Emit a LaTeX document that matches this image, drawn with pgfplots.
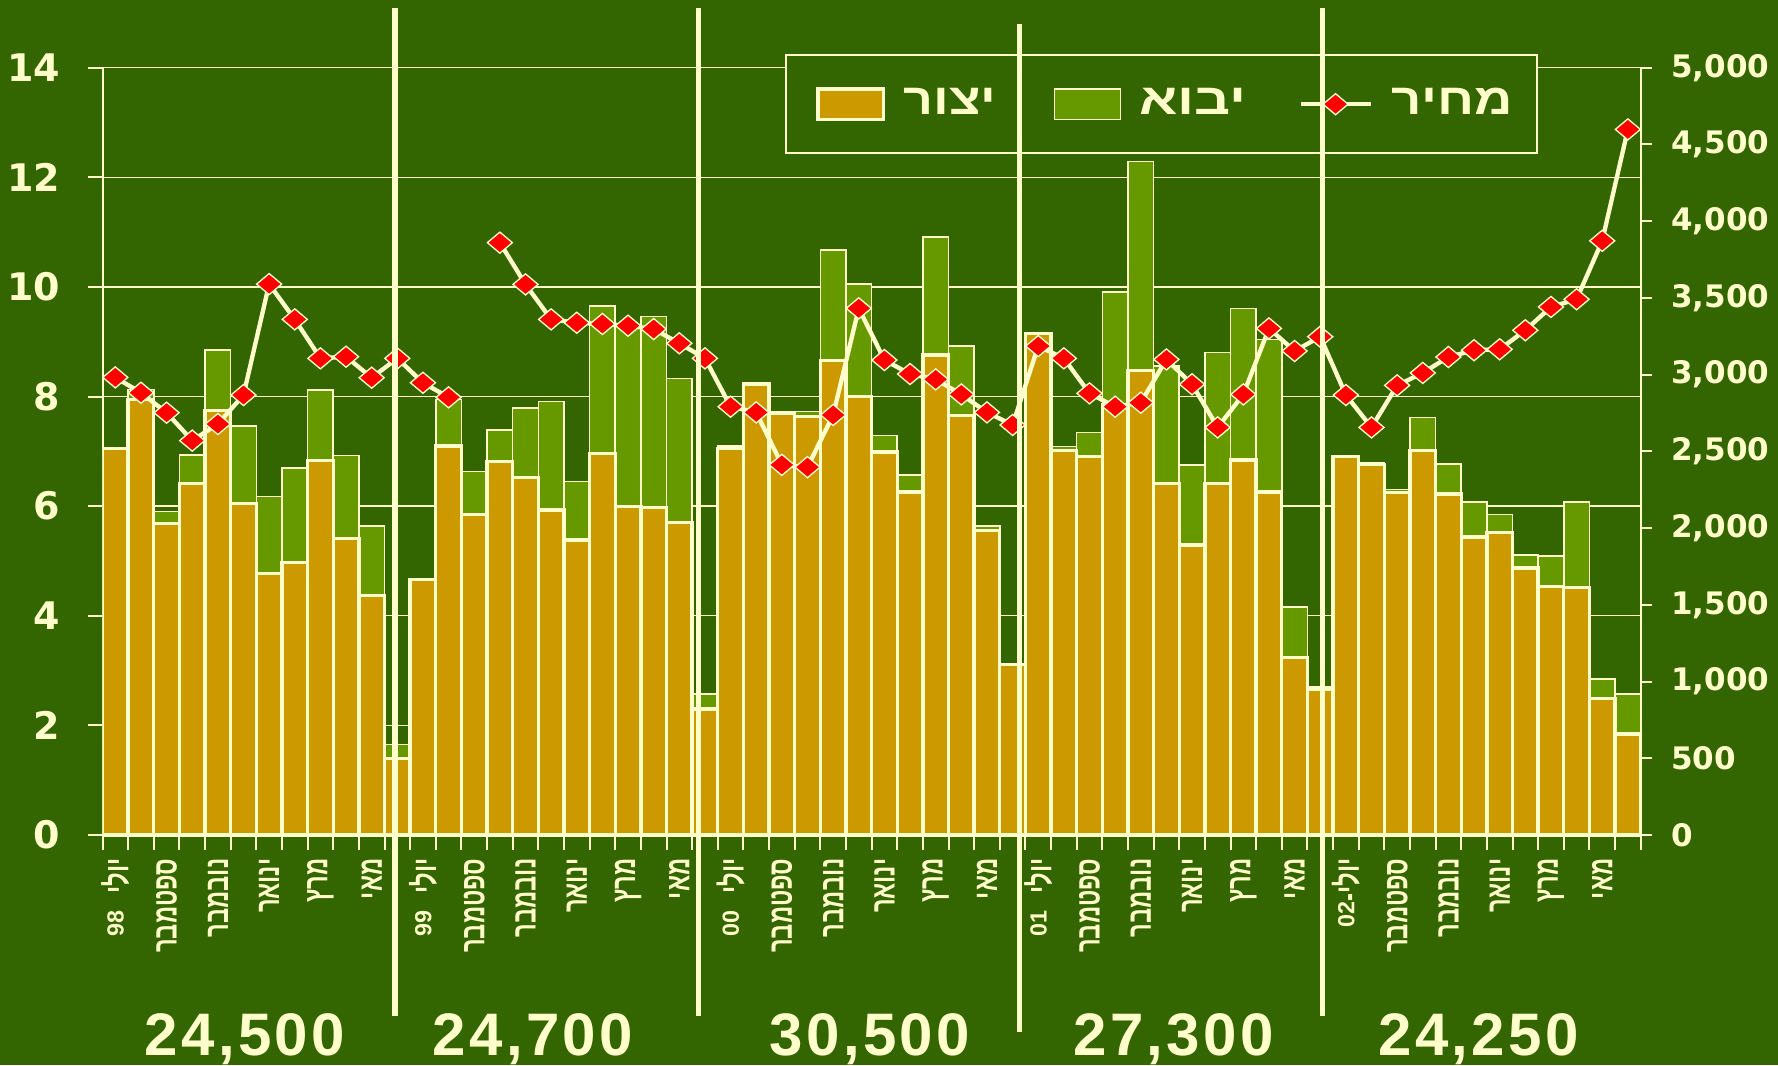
\documentclass[border=0pt]{standalone}
\usepackage{fontspec}
\usepackage{graphicx}
\usepackage{pgfplots}
\usepackage{pgfplotstable}
\pgfplotsset{compat=1.18}
\setmainfont{Liberation Sans}
\newfontfamily\heb[Script=Hebrew]{Liberation Sans}
\newfontfamily\hebn[Script=Hebrew, FakeStretch=0.71]{Liberation Sans}
\newfontfamily\dvs{DejaVu Sans}
\newfontfamily\bignum[LetterSpace=5.5]{Liberation Sans}
\TeXXeTstate=1
\definecolor{bg}{HTML}{336600}
\definecolor{gold}{HTML}{CC9900}
\definecolor{grn}{HTML}{669900}
\definecolor{cream}{HTML}{FFFFCC}
\newcommand\yy[1]{\raisebox{1.4pt}{\heb\fontsize{7}{7}\selectfont #1}}
\pgfplotsset{
  boxlegend/.style={legend image code/.code={\path (-1.7pt,0pt); \draw[##1] (0pt,-4.6pt) rectangle (19.7pt,4.6pt);}},
  mylinelegend/.style={legend image code/.code={\draw[mark repeat=2,mark phase=2,##1] plot coordinates {(0pt,0pt) (10.5pt,0pt) (21pt,0pt)};}},
}

\pgfplotstableread{
x gold imp price
0 7.05 0.00 2982
1 7.95 0.18 2882
2 5.68 0.22 2752
3 6.41 0.52 2570
4 7.74 1.11 2678
5 6.05 1.41 2867
6 4.77 1.41 3590
7 4.97 1.73 3360
8 6.83 1.29 3106
9 5.41 1.51 3117
10 4.37 1.27 2980
11 1.40 0.25 3106
12 4.66 0.00 2947
13 7.10 0.85 2852
14 5.85 0.78 nan
15 6.82 0.57 3860
16 6.52 1.27 3588
17 5.93 1.98 3360
18 5.38 1.07 3338
19 6.96 2.69 3330
20 5.99 3.31 3319
21 5.98 3.48 3297
22 5.70 2.63 3204
23 2.30 0.27 3106
24 7.05 0.05 2791
25 8.23 0.00 2754
26 7.70 0.00 2412
27 7.64 0.09 2397
28 8.66 2.01 2737
29 8.00 2.05 3432
30 6.99 0.30 3095
31 6.26 0.31 3004
32 8.76 2.15 2969
33 7.65 1.27 2871
34 5.55 0.09 2754
35 3.11 0.00 2672
36 9.15 0.00 3186
37 7.01 0.08 3106
38 6.91 0.43 2878
39 7.85 2.06 2791
40 8.48 3.81 2817
41 6.41 2.15 3099
42 5.29 1.46 2937
43 6.41 2.39 2656
44 6.84 2.77 2871
45 6.26 2.78 3301
46 3.24 0.92 3154
47 2.65 0.05 3247
48 6.91 0.00 2867
49 6.76 0.04 2656
50 6.25 0.05 2930
51 7.01 0.61 3011
52 6.22 0.55 3115
53 5.44 0.64 3159
54 5.52 0.33 3165
55 4.87 0.24 3289
56 4.54 0.55 3441
57 4.52 1.56 3491
58 2.49 0.36 3872
59 1.84 0.73 4598
}\data

\begin{document}
\begin{tikzpicture}
\fill[bg] (0pt,0pt) rectangle (533.4pt,319.5pt);

\begin{axis}[
  at={(30.75pt,69pt)}, anchor=south west,
  scale only axis, width=461.46pt, height=230.19pt,
  xmin=-0.5, xmax=59.5, ymin=0, ymax=14,
  axis x line*=bottom, axis y line*=left,
  axis line style={-, cream},
  x axis line style={line width=1pt},
  y axis line style={line width=0.6pt},
  ybar stacked, bar width=1,
  ytick={0,2,...,14},
  ymajorgrids, grid style={cream, line width=0.4pt},
  tick align=outside, major tick length=4.5pt,
  tick style={cream, line width=0.6pt},
  xtick={-0.5,0.5,...,59.5}, xticklabels={},
  extra x ticks={0,2,...,58},
  extra x tick style={major tick length=0pt, grid=none},
  extra x tick labels={
   {\beginR יולי\kern5pt\yy{98}\endR},{\beginR ספטמבר\endR},{\beginR נובמבר\endR},{\beginR ינואר\endR},{\beginR מרץ\endR},{\beginR מאי\endR},
   {\beginR יולי\kern5pt\yy{99}\endR},{\beginR ספטמבר\endR},{\beginR נובמבר\endR},{\beginR ינואר\endR},{\beginR מרץ\endR},{\beginR מאי\endR},
   {\beginR יולי\kern5pt\yy{00}\endR},{\beginR ספטמבר\endR},{\beginR נובמבר\endR},{\beginR ינואר\endR},{\beginR מרץ\endR},{\beginR מאי\endR},
   {\beginR יולי\kern5pt\yy{01}\endR},{\beginR ספטמבר\endR},{\beginR נובמבר\endR},{\beginR ינואר\endR},{\beginR מרץ\endR},{\beginR מאי\endR},
   {\beginR יולי\kern0pt-\kern0pt\yy{02}\endR},{\beginR ספטמבר\endR},{\beginR נובמבר\endR},{\beginR ינואר\endR},{\beginR מרץ\endR},{\beginR מאי\endR}},
  xticklabel style={rotate=90, anchor=east, inner sep=0pt, text=cream,
    font=\hebn\bfseries\fontsize{10}{11}\selectfont},
  xticklabel shift=6.9pt,
  yticklabel style={anchor=east, inner sep=0pt, text=cream,
    font=\dvs\bfseries\fontsize{11.4}{12}\selectfont},
  yticklabel shift=8pt,
  /pgf/number format/assume math mode=true,
]
\addplot[fill=gold, draw=cream, line width=1pt] table[x=x,y=gold]{\data};
\addplot[fill=grn, draw=cream, line width=0.45pt] table[x=x,y=imp]{\data};
\end{axis}

\begin{axis}[
  at={(30.75pt,69pt)}, anchor=south west,
  scale only axis, width=461.46pt, height=230.19pt,
  xmin=-0.5, xmax=59.5, ymin=0, ymax=5000,
  hide x axis, axis y line*=right,
  axis line style={-, cream, line width=0.6pt},
  ytick={0,500,...,5000},
  tick align=outside, major tick length=3.3pt,
  tick style={cream, line width=0.6pt},
  scaled y ticks=false,
  yticklabel style={anchor=west, inner sep=0pt, text=cream,
    font=\dvs\bfseries\fontsize{9.3}{10}\selectfont,
    /pgf/number format/fixed, /pgf/number format/1000 sep={,}},
  yticklabel shift=5.7pt,
  /pgf/number format/assume math mode=true,
  unbounded coords=jump,
  legend columns=3,
  legend style={at={(0.444,1.0173)}, anchor=north west, fill=bg, draw=cream,
    line width=0.45pt, text=cream, inner xsep=7.3pt, inner ysep=8pt,
    nodes={inner xsep=0pt},
    font=\heb\bfseries\fontsize{13}{13}\selectfont,
    /tikz/every odd column/.append style={column sep=5.5pt},
    /tikz/every even column/.append style={column sep=15.5pt}},
]
\addlegendimage{boxlegend, fill=gold, draw=cream, line width=1pt}
\addlegendentry{\scalebox{1.2}[1]{\beginR יצור\endR}}
\addlegendimage{boxlegend, fill=grn, draw=cream, line width=0.45pt}
\addlegendentry{\scalebox{1.3}[1]{\beginR יבוא\endR}}
\addplot[mylinelegend, cream, line width=1.3pt, mark=square*, mark size=2.23pt,
  mark options={fill=red, draw=cream, line width=0.4pt, xscale=1.19, rotate=45}]
  table[x=x,y=price]{\data};
\addlegendentry{\scalebox{1.22}[1]{\beginR מחיר\endR}}
\end{axis}

\draw[cream, line width=1.65pt] (118.5pt,317.1pt) -- (118.5pt,14.7pt);
\draw[cream, line width=1.65pt] (209.6pt,317.1pt) -- (209.6pt,14.7pt);
\draw[cream, line width=1.65pt] (305.8pt,312.3pt) -- (305.8pt,9.9pt);
\draw[cream, line width=1.65pt] (396.8pt,317.1pt) -- (396.8pt,14.7pt);

\tikzset{big/.style={text=cream, anchor=base, inner sep=0pt,
  font=\bignum\bfseries\fontsize{18}{18}\selectfont}}
\node[big] at (73.5pt,3pt) {24,500};
\node[big] at (159.9pt,3pt) {24,700};
\node[big] at (261.0pt,3pt) {30,500};
\node[big] at (352.1pt,3pt) {27,300};
\node[big] at (443.6pt,3pt) {24,250};

\pgfresetboundingbox
\useasboundingbox (0pt,0pt) rectangle (533.4pt,319.5pt);
\end{tikzpicture}
\end{document}
